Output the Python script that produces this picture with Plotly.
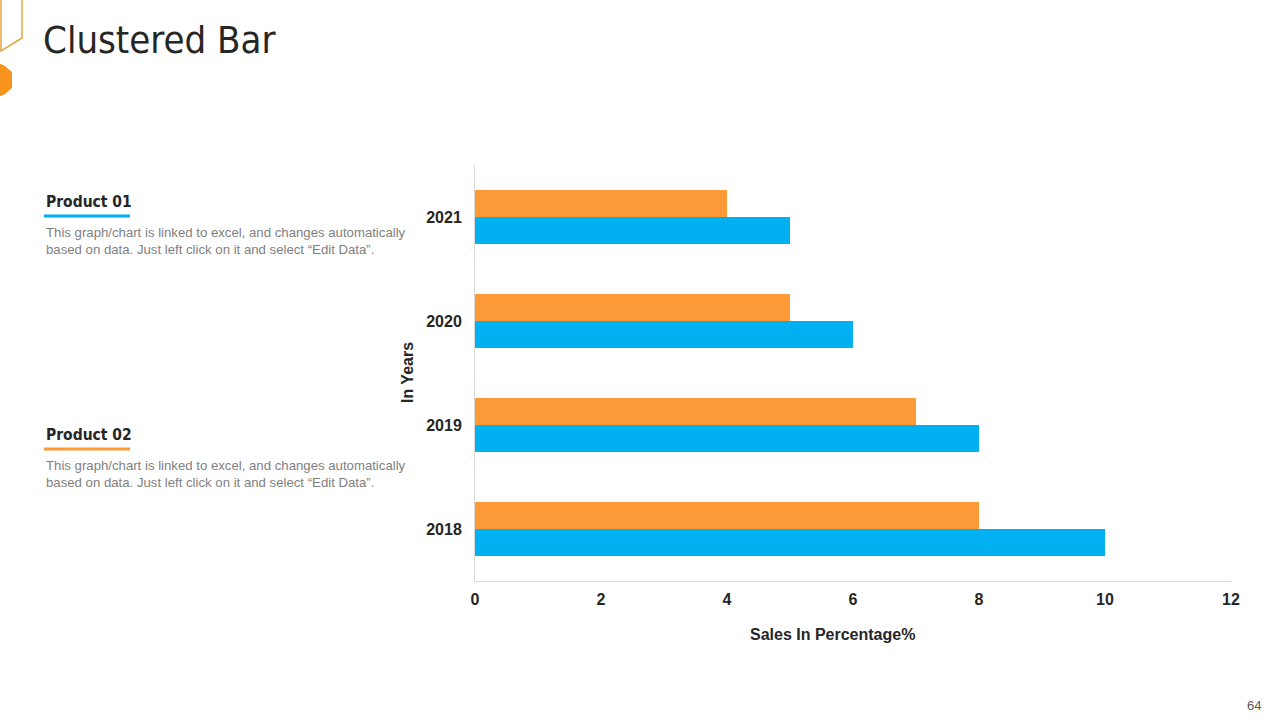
import plotly.graph_objects as go

years = ["2018", "2019", "2020", "2021"]
product_01 = [10, 8, 6, 5]
product_02 = [8, 7, 5, 4]
x_ticks = [0, 2, 4, 6, 8, 10, 12]

BLUE = "#00B0F0"
ORANGE = "#FB9A36"

W, H = 1280, 720
L, R, T, B = 475, 1231, 165, 581


def px(x):
    return (x - L) / (R - L)


def py(y):
    return (B - y) / (B - T)


fig = go.Figure()
fig.add_trace(go.Bar(y=years, x=product_01, orientation="h", name="Product 01",
                     marker=dict(color=BLUE, line=dict(width=0))))
fig.add_trace(go.Bar(y=years, x=product_02, orientation="h", name="Product 02",
                     marker=dict(color=ORANGE, line=dict(width=0))))

tickfont = dict(family="Liberation Sans, Arial", size=16, color="#262626", weight="bold")

fig.update_layout(
    width=W, height=H,
    margin=dict(l=L, r=W - R, t=T, b=H - B, pad=0),
    paper_bgcolor="white", plot_bgcolor="white",
    barmode="group", bargap=0.48, bargroupgap=0,
    showlegend=False,
    xaxis=dict(range=[0, 12], tickvals=x_ticks, showgrid=False, zeroline=False,
               showline=True, linecolor="#d9d9d9", linewidth=1,
               ticks="outside", ticklen=4, tickcolor="rgba(0,0,0,0)",
               tickfont=tickfont),
    yaxis=dict(range=[-0.5, 3.5], showgrid=False, zeroline=False,
               showline=True, linecolor="#d9d9d9", linewidth=1,
               ticks="outside", ticklen=9, tickcolor="rgba(0,0,0,0)",
               tickfont=tickfont),
)

NARROW = "DejaVu Sans Condensed, Liberation Sans Narrow, Arial Narrow, Liberation Sans"
anns = []
anns.append(dict(x=px(41), y=py(40), xref="paper", yref="paper", xanchor="left", yanchor="middle",
                 text="Clustered Bar", showarrow=False,
                 font=dict(family=NARROW, size=38, color="#262626")))
anns.append(dict(x=px(832), y=py(634), xref="paper", yref="paper", xanchor="center", yanchor="middle",
                 text="<b>Sales In Percentage%</b>", showarrow=False,
                 font=dict(family="Liberation Sans, Arial", size=16, color="#262626")))
anns.append(dict(x=px(407), y=py(373), xref="paper", yref="paper", xanchor="center", yanchor="middle",
                 text="<b>In Years</b>", showarrow=False, textangle=-90,
                 font=dict(family="Liberation Sans, Arial", size=16, color="#262626")))
anns.append(dict(x=px(1263), y=py(705), xref="paper", yref="paper", xanchor="right", yanchor="middle",
                 text="64", showarrow=False,
                 font=dict(family="Liberation Sans, Arial", size=13, color="#595959")))

body = "This graph/chart is linked to excel, and changes automatically<br>based on data. Just left click on it and select “Edit Data”."
for title, ty, color in [("Product 01", 202, BLUE), ("Product 02", 435, ORANGE)]:
    anns.append(dict(x=px(44), y=py(ty), xref="paper", yref="paper", xanchor="left", yanchor="middle",
                     text="<b>" + title + "</b>", showarrow=False,
                     font=dict(family=NARROW, size=15.5, color="#262626")))
    anns.append(dict(x=px(44), y=py(ty + 39), xref="paper", yref="paper", xanchor="left", yanchor="middle",
                     text=body, showarrow=False, align="left",
                     font=dict(family="Liberation Sans, Arial", size=13.2, color="#7f7f7f")))
fig.update_layout(annotations=anns)

shapes = []
for ty, color in [(216, BLUE), (449, ORANGE)]:
    shapes.append(dict(type="rect", xref="paper", yref="paper",
                       x0=px(44), x1=px(130), y0=py(ty - 1.5), y1=py(ty + 1.5),
                       fillcolor=color, line=dict(width=0)))


def path(points, close=True):
    s = "M " + " L ".join(f"{px(x)},{py(y)}" for x, y in points)
    return s + (" Z" if close else "")


shapes.append(dict(type="path", xref="paper", yref="paper",
                   path=path([(1, -2), (22, -2), (22, 38), (1, 51), (1, -2)]),
                   line=dict(color="#E8A33C", width=1.5), fillcolor="rgba(0,0,0,0)"))
shapes.append(dict(type="path", xref="paper", yref="paper",
                   path=path([(-2, 63), (5, 66), (12, 72), (12, 88), (5, 94), (-2, 97)]),
                   line=dict(width=0), fillcolor="#F7941D"))
fig.update_layout(shapes=shapes)

fig.write_html("out.html", config={"displayModeBar": False},
               post_script="document.body.style.margin='0';")
